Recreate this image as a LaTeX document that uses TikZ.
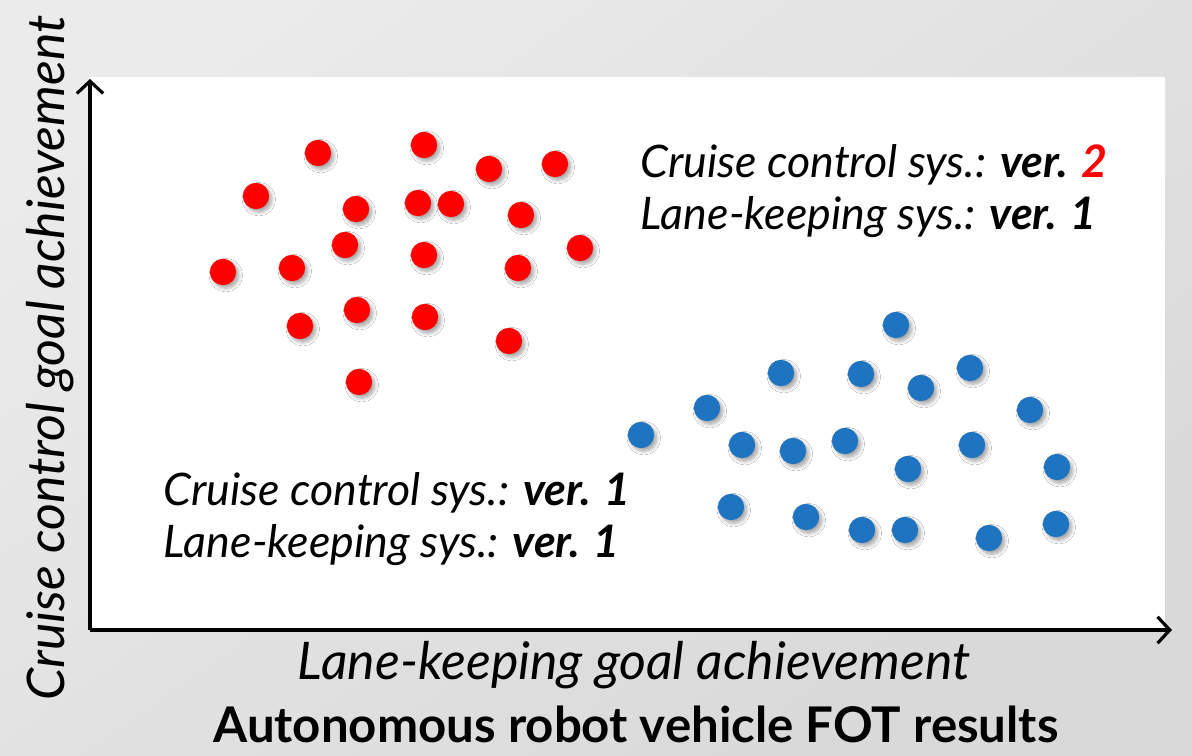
\documentclass[tikz,border=0pt]{standalone}
\usepackage{fontspec}
\setmainfont{Lato}
\usetikzlibrary{arrows.meta,shadows.blur}
\definecolor{dotred}{RGB}{255,0,0}
\definecolor{dotblue}{RGB}{30,116,192}
\tikzset{
    RD/.style ={circle, minimum size=15pt, inner sep=0pt, fill=dotred,
        blur shadow={shadow xshift=1.6pt, shadow yshift=-1.8pt, shadow blur steps=6, shadow opacity=35}},
    BD/.style ={circle, minimum size=15pt, inner sep=0pt, fill=dotblue,
        blur shadow={shadow xshift=1.6pt, shadow yshift=-1.8pt, shadow blur steps=6, shadow opacity=35}},
    TX/.style ={anchor=west, inner sep=0pt, font=\fontsize{25.5}{30}\selectfont\itshape},
    AL/.style ={inner sep=0pt, font=\fontsize{29.5}{36}\selectfont\itshape},
    AX/.style ={line width=1.8pt, -{Straight Barb[length=7pt,width=15pt,line width=1.8pt]}}}

\begin{document}
\begin{tikzpicture}[x=0.02cm, y=-0.02cm]
        \useasboundingbox (0,0) rectangle (1192,755);
        \shade[top color=black!8, bottom color=black!15, shading angle=35] (0,0) rectangle (1192,755);
        \fill[white] (90,77) rectangle (1165,630);
        % axes
        \coordinate (O) at (90,630);
        \coordinate (Y) at (90,79);
        \coordinate (X) at (1172,630);
        \draw[AX] (O) -- (Y);
        \draw[AX] (O) -- (X);
        % version 2 results
        \node[RD] (r1) at (318,153){};
        \node[RD] (r2) at (424,145){};
        \node[RD] (r3) at (489,169){};
        \node[RD] (r4) at (555,164){};
        \node[RD] (r5) at (256,196){};
        \node[RD] (r6) at (356,209){};
        \node[RD] (r7) at (418,203){};
        \node[RD] (r8) at (451,204){};
        \node[RD] (r9) at (521,215){};
        \node[RD] (r10) at (345,245){};
        \node[RD] (r11) at (424,255){};
        \node[RD] (r12) at (580,248){};
        \node[RD] (r13) at (223,272){};
        \node[RD] (r14) at (292,268){};
        \node[RD] (r15) at (518,268){};
        \node[RD] (r16) at (357,310){};
        \node[RD] (r17) at (425,317){};
        \node[RD] (r18) at (300,326){};
        \node[RD] (r19) at (509,341){};
        \node[RD] (r20) at (359,382){};
        % version 1 results
        \node[BD] (b1) at (896,325){};
        \node[BD] (b2) at (781,373){};
        \node[BD] (b3) at (861,374){};
        \node[BD] (b4) at (921,388){};
        \node[BD] (b5) at (970,368){};
        \node[BD] (b6) at (707,408){};
        \node[BD] (b7) at (1030,410){};
        \node[BD] (b8) at (641,435){};
        \node[BD] (b9) at (742,445){};
        \node[BD] (b10) at (793,451){};
        \node[BD] (b11) at (845,441){};
        \node[BD] (b12) at (972,445){};
        \node[BD] (b13) at (908,469){};
        \node[BD] (b14) at (1057,467){};
        \node[BD] (b15) at (731,507){};
        \node[BD] (b16) at (806,517){};
        \node[BD] (b17) at (862,530){};
        \node[BD] (b18) at (905,530){};
        \node[BD] (b19) at (989,538){};
        \node[BD] (b20) at (1056,524){};
        % legends
        \node[TX] (t1) at (640,165){Cruise control sys.: \textbf{ver. \textcolor{dotred}{2}}};
        \node[TX] (t2) at (640,217){Lane-keeping sys.: \textbf{ver. 1}};
        \node[TX] (t3) at (163,493){Cruise control sys.: \textbf{ver. 1}};
        \node[TX] (t4) at (163,545){Lane-keeping sys.: \textbf{ver. 1}};
        % axis labels
        \node[AL] (xl) at (634,665){Lane-keeping goal achievement};
        \node[AL, rotate=90] (yl) at (50,358){Cruise control goal achievement};
        \node[inner sep=0pt, font=\fontsize{28}{32}\selectfont\bfseries] (ttl) at (636,724){Autonomous robot vehicle FOT results};
    \end{tikzpicture}
\end{document}
